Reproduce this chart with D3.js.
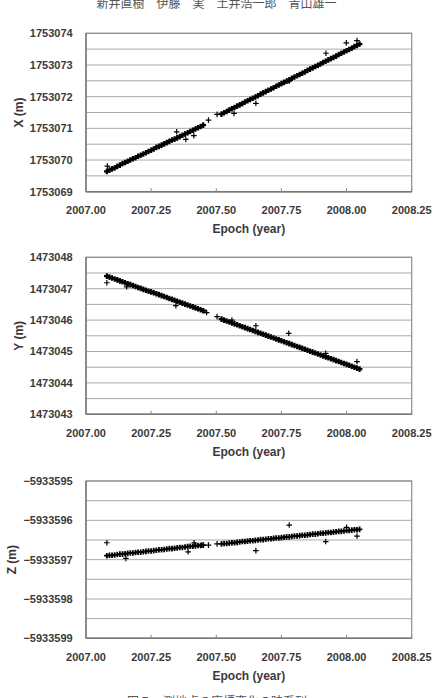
<!DOCTYPE html>
<html><head><meta charset="utf-8">
<script src="https://cdn.jsdelivr.net/npm/d3@7"></script>
<style>
html,body{margin:0;padding:0;background:#fff;}
svg{display:block;}
</style></head>
<body>
<svg id="c" width="435" height="698"></svg>
<script>
// ---------- DATA ----------
const epochs = [
 2007.08,2007.09,2007.10,2007.11,2007.12,2007.13,2007.14,2007.15,2007.16,2007.17,
 2007.18,2007.19,2007.20,2007.21,2007.22,2007.23,2007.24,2007.25,2007.26,2007.27,
 2007.28,2007.29,2007.30,2007.31,2007.32,2007.33,2007.34,2007.35,2007.36,2007.37,
 2007.38,2007.39,2007.40,2007.41,2007.42,2007.43,2007.44,2007.45,
 2007.52,2007.53,2007.54,2007.55,2007.56,2007.57,2007.58,2007.59,2007.60,2007.61,
 2007.62,2007.63,2007.64,2007.65,2007.66,2007.67,2007.68,2007.69,2007.70,2007.71,
 2007.72,2007.73,2007.74,2007.75,2007.76,2007.77,2007.78,2007.79,2007.80,2007.81,
 2007.82,2007.83,2007.84,2007.85,2007.86,2007.87,2007.88,2007.89,2007.90,2007.91,
 2007.92,2007.93,2007.94,2007.95,2007.96,2007.97,2007.98,2007.99,2008.00,2008.01,
 2008.02,2008.03,2008.04,2008.05
];
const xValues = [
 1753069.64,1753069.68,1753069.72,1753069.75,1753069.80,1753069.84,1753069.89,1753069.92,1753069.96,1753070.00,
 1753070.04,1753070.07,1753070.12,1753070.15,1753070.19,1753070.23,1753070.27,1753070.31,1753070.35,1753070.40,
 1753070.43,1753070.47,1753070.51,1753070.55,1753070.59,1753070.63,1753070.66,1753070.70,1753070.74,1753070.78,
 1753070.82,1753070.86,1753070.90,1753070.94,1753070.98,1753071.02,1753071.06,1753071.10,
 1753071.45,1753071.49,1753071.53,1753071.58,1753071.62,1753071.66,1753071.70,1753071.74,1753071.78,1753071.83,
 1753071.87,1753071.91,1753071.95,1753071.99,1753072.03,1753072.08,1753072.12,1753072.16,1753072.20,1753072.24,
 1753072.28,1753072.33,1753072.37,1753072.41,1753072.45,1753072.49,1753072.53,1753072.58,1753072.62,1753072.66,
 1753072.70,1753072.74,1753072.78,1753072.83,1753072.87,1753072.91,1753072.95,1753072.99,1753073.03,1753073.08,
 1753073.12,1753073.16,1753073.20,1753073.24,1753073.28,1753073.33,1753073.37,1753073.41,1753073.45,1753073.49,
 1753073.53,1753073.58,1753073.62,1753073.66
];
const yValues = [
 1473047.40,1473047.37,1473047.34,1473047.31,1473047.28,1473047.25,1473047.22,1473047.19,1473047.16,1473047.13,
 1473047.10,1473047.07,1473047.04,1473047.01,1473046.98,1473046.95,1473046.92,1473046.90,1473046.87,1473046.84,
 1473046.81,1473046.78,1473046.75,1473046.72,1473046.69,1473046.66,1473046.63,1473046.60,1473046.57,1473046.54,
 1473046.51,1473046.48,1473046.45,1473046.42,1473046.39,1473046.36,1473046.33,1473046.30,
 1473046.03,1473046.00,1473045.97,1473045.94,1473045.91,1473045.88,1473045.85,1473045.82,1473045.79,1473045.76,
 1473045.73,1473045.70,1473045.67,1473045.64,1473045.61,1473045.58,1473045.55,1473045.52,1473045.49,1473045.46,
 1473045.43,1473045.40,1473045.37,1473045.34,1473045.31,1473045.28,1473045.25,1473045.22,1473045.19,1473045.16,
 1473045.13,1473045.10,1473045.07,1473045.04,1473045.01,1473044.98,1473044.95,1473044.92,1473044.89,1473044.86,
 1473044.83,1473044.80,1473044.77,1473044.74,1473044.71,1473044.68,1473044.65,1473044.62,1473044.59,1473044.56,
 1473044.53,1473044.50,1473044.47,1473044.44
];
const zValues = [
 -5933596.90,-5933596.89,-5933596.89,-5933596.88,-5933596.87,-5933596.86,-5933596.86,-5933596.85,-5933596.84,-5933596.83,
 -5933596.83,-5933596.82,-5933596.81,-5933596.81,-5933596.80,-5933596.79,-5933596.78,-5933596.78,-5933596.77,-5933596.76,
 -5933596.75,-5933596.75,-5933596.74,-5933596.73,-5933596.72,-5933596.72,-5933596.71,-5933596.70,-5933596.69,-5933596.69,
 -5933596.68,-5933596.67,-5933596.66,-5933596.66,-5933596.65,-5933596.64,-5933596.64,-5933596.63,
 -5933596.60,-5933596.59,-5933596.59,-5933596.58,-5933596.57,-5933596.57,-5933596.56,-5933596.55,-5933596.54,-5933596.54,
 -5933596.53,-5933596.52,-5933596.52,-5933596.51,-5933596.50,-5933596.49,-5933596.49,-5933596.48,-5933596.47,-5933596.47,
 -5933596.46,-5933596.45,-5933596.45,-5933596.44,-5933596.43,-5933596.42,-5933596.42,-5933596.41,-5933596.40,-5933596.40,
 -5933596.39,-5933596.38,-5933596.38,-5933596.37,-5933596.36,-5933596.35,-5933596.35,-5933596.34,-5933596.33,-5933596.33,
 -5933596.32,-5933596.31,-5933596.31,-5933596.30,-5933596.29,-5933596.28,-5933596.28,-5933596.27,-5933596.26,-5933596.26,
 -5933596.25,-5933596.24,-5933596.24,-5933596.23
];
// scattered (outlying) observations
const xOutEpochs = [2007.082,2007.348,2007.383,2007.414,2007.47,2007.503,2007.568,2007.652,2007.78,2007.921,2007.999,2008.04];
const xOutValues = [1753069.81,1753070.89,1753070.65,1753070.77,1753071.26,1753071.44,1753071.47,1753071.79,1753072.49,1753073.37,1753073.70,1753073.77];
const yOutEpochs = [2007.08,2007.156,2007.345,2007.463,2007.503,2007.56,2007.652,2007.778,2007.92,2008.04];
const yOutValues = [1473047.19,1473047.06,1473046.46,1473046.24,1473046.11,1473046.00,1473045.82,1473045.58,1473044.94,1473044.68];
const zOutEpochs = [2007.08,2007.153,2007.392,2007.415,2007.444,2007.47,2007.503,2007.652,2007.78,2007.92,2008.00,2008.04];
const zOutValues = [-5933596.57,-5933596.97,-5933596.80,-5933596.57,-5933596.63,-5933596.63,-5933596.60,-5933596.77,-5933596.12,-5933596.54,-5933596.18,-5933596.40];

const epochTicks = [2007.00,2007.25,2007.50,2007.75,2008.00,2008.25];
const epochTickLabels = ["2007.00","2007.25","2007.50","2007.75","2008.00","2008.25"];
const xTicks = [1753069,1753070,1753071,1753072,1753073,1753074];
const yTicks = [1473043,1473044,1473045,1473046,1473047,1473048];
const zTicks = [-5933599,-5933598,-5933597,-5933596,-5933595];
const axisTitles = ["X (m)","Y (m)","Z (m)"];
const xAxisTitle = "Epoch (year)";
const headerText = "新井直樹　伊藤　実　土井浩一郎　青山雄一";
const captionText = "図５　測地点の座標変化の時系列";

// ---------- DRAW ----------
const svg = d3.select("#c");
const FONT = "'Liberation Sans', Arial, sans-serif";
const left = 86, right = 411.7;
const xs = d3.scaleLinear().domain([2007.00, 2008.25]).range([left, right]);

svg.append("text").attr("x", 216.5).attr("y", 7.5)
  .attr("text-anchor","middle").attr("font-family","'Noto Sans CJK JP', sans-serif")
  .attr("font-size", 12).attr("fill","#555").text(headerText);

svg.append("text").attr("x", 127).attr("y", 706)
  .attr("font-family","'Noto Sans CJK JP', sans-serif")
  .attr("font-size", 12).attr("fill","#555").text(captionText);

const plus = "M-2.8,0H2.8M0,-2.8V2.8";

function panel(cfg){
  const ys = d3.scaleLinear().domain(cfg.domain).range([cfg.bottom, cfg.top]);
  const g = svg.append("g");
  // gridlines every 0.5 m
  const grid = d3.range(cfg.domain[0], cfg.domain[1] + 0.001, 0.5);
  g.selectAll("line.grid").data(grid).join("line")
    .attr("x1", left).attr("x2", right)
    .attr("y1", d => ys(d)).attr("y2", d => ys(d))
    .attr("stroke", "#a8a8a8").attr("stroke-width", 1);
  // frame
  g.append("rect").attr("x", left).attr("y", cfg.top)
    .attr("width", right-left).attr("height", cfg.bottom-cfg.top)
    .attr("fill","none").attr("stroke","#8c8c8c").attr("stroke-width",1.2);
  g.append("line").attr("x1",left).attr("x2",left).attr("y1",cfg.top).attr("y2",cfg.bottom)
    .attr("stroke","#777").attr("stroke-width",1.4);
  g.append("line").attr("x1",left).attr("x2",right).attr("y1",cfg.bottom).attr("y2",cfg.bottom)
    .attr("stroke","#777").attr("stroke-width",1.4);
  // x ticks (inward)
  g.selectAll("line.xt").data(epochTicks).join("line")
    .attr("x1", d=>xs(d)).attr("x2", d=>xs(d))
    .attr("y1", cfg.bottom).attr("y2", cfg.bottom-3.5)
    .attr("stroke","#888").attr("stroke-width",1);
  // x tick labels
  g.selectAll("text.xl").data(epochTicks).join("text")
    .attr("x", d=>xs(d)).attr("y", cfg.bottom + 18.5)
    .attr("text-anchor","middle").attr("dy","0.35em")
    .attr("font-family",FONT).attr("font-size",11).attr("font-weight","bold").attr("fill","#3a3a3a")
    .text((d,i)=>epochTickLabels[i]);
  // y tick labels
  g.selectAll("text.yl").data(cfg.ticks).join("text")
    .attr("x", 72.7).attr("y", d=>ys(d))
    .attr("text-anchor","end").attr("dy","0.35em")
    .attr("font-family",FONT).attr("font-size",11).attr("font-weight","bold").attr("fill","#3a3a3a")
    .text(d => d < 0 ? "\u2212" + Math.abs(d) : String(d));
  // axis titles
  g.append("text").attr("x", left + (right-left)/2).attr("y", cfg.bottom + 37.5)
    .attr("text-anchor","middle").attr("dy","0.35em")
    .attr("font-family",FONT).attr("font-size",12).attr("font-weight","bold").attr("fill","#3a3a3a")
    .text(xAxisTitle);
  g.append("text")
    .attr("transform", `translate(${cfg.titleX},${(cfg.top+cfg.bottom)/2}) rotate(-90)`)
    .attr("text-anchor","middle").attr("dy","0.35em")
    .attr("font-family",FONT).attr("font-size",12).attr("font-weight","bold").attr("fill","#3a3a3a")
    .text(cfg.title);
  // data
  g.selectAll("path.pt").data(cfg.values.map((v,i)=>[epochs[i], v])).join("path")
    .attr("d", plus).attr("transform", d=>`translate(${xs(d[0])},${ys(d[1])})`)
    .attr("stroke","#000").attr("stroke-width",cfg.dense).attr("fill","none");
  g.selectAll("path.out").data(cfg.outE.map((e,i)=>[e, cfg.outV[i]])).join("path")
    .attr("d", plus).attr("transform", d=>`translate(${xs(d[0])},${ys(d[1])})`)
    .attr("stroke","#000").attr("stroke-width",1.2).attr("fill","none");
}

panel({top:33.3, bottom:191.7, domain:[1753069,1753074], ticks:xTicks, title:axisTitles[0], titleX:19,
       values:xValues, outE:xOutEpochs, outV:xOutValues, dense:2.2});
panel({top:257.3, bottom:414.3, domain:[1473043,1473048], ticks:yTicks, title:axisTitles[1], titleX:19,
       values:yValues, outE:yOutEpochs, outV:yOutValues, dense:2.2});
panel({top:481, bottom:638.3, domain:[-5933599,-5933595], ticks:zTicks, title:axisTitles[2], titleX:12,
       values:zValues, outE:zOutEpochs, outV:zOutValues, dense:1.8});
</script>
</body></html>
